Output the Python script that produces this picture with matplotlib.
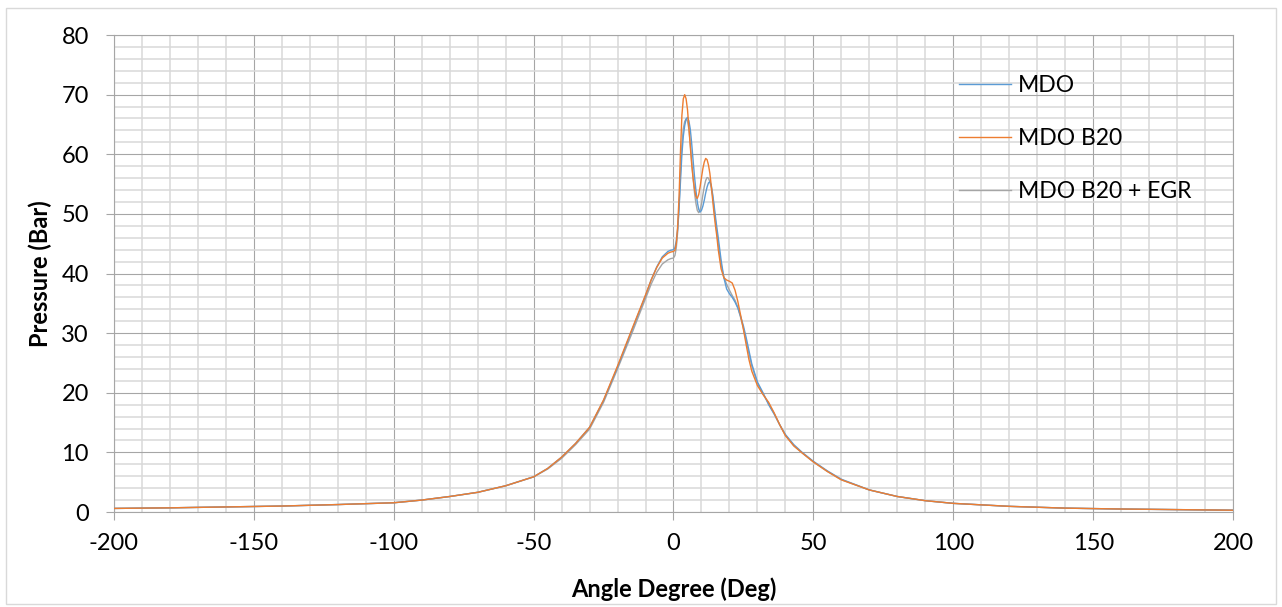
import matplotlib
matplotlib.use("Agg")
import matplotlib.pyplot as plt
from matplotlib.ticker import MultipleLocator

plt.rcParams['font.family'] = ['Lato', 'DejaVu Sans']
plt.rcParams['axes.unicode_minus'] = False

# crank angle (deg) and cylinder pressure (bar)
angle = [-200, -180, -160, -140, -120, -100, -90, -80, -70, -60, -50, -45, -40, -35,
         -30, -25, -20, -15, -10, -8, -6, -4, -2, -1, 0, 0.5, 1, 1.5, 2, 2.5, 3, 3.5,
         4, 4.5, 5, 5.5, 6, 6.5, 7, 7.5, 8, 8.5, 9, 9.5, 10, 10.5, 11, 11.5, 12, 12.5,
         13, 13.5, 14, 14.5, 15, 15.5, 16, 17, 18, 19, 20, 21, 22, 23, 24, 25, 26, 27,
         28, 30, 32, 34, 36, 38, 40, 43, 46, 50, 55, 60, 70, 80, 90, 100, 120, 140,
         160, 180, 200]

mdo = [0.6, 0.7, 0.85, 1.0, 1.25, 1.55, 2.0, 2.6, 3.3, 4.4, 5.9, 7.3, 9.2, 11.5,
       14.2, 18.7, 24.3, 30.3, 36.3, 38.9, 41.1, 42.8, 43.7, 43.9, 44.0, 44.3, 45.5, 47.5, 51.0, 55.5, 60.0, 63.0,
       64.8, 65.9, 66.2, 65.6, 64.2, 61.8, 59.0, 56.3, 54.0, 52.0, 50.8, 50.3, 50.6, 51.3, 52.3, 53.5, 54.5, 55.2,
       55.4, 54.8, 53.3, 51.5, 49.5, 47.7, 46.0, 42.3, 39.3, 37.4, 36.6, 36.0, 35.2, 34.2, 32.8, 31.2, 29.2, 27.0,
       24.8, 21.8, 20.0, 18.0, 16.4, 14.6, 13.0, 11.3, 10.0, 8.5, 6.9, 5.5, 3.7, 2.6, 1.9, 1.45, 0.95, 0.65,
       0.5, 0.4, 0.3]

mdo_b20 = [0.6, 0.7, 0.85, 1.0, 1.25, 1.55, 2.0, 2.6, 3.3, 4.4, 5.9, 7.3, 9.2, 11.5,
           14.2, 18.8, 24.5, 30.5, 36.4, 38.9, 41.0, 42.6, 43.4, 43.6, 43.7, 43.9, 45.0, 48.0, 53.0, 60.5, 66.5, 69.3,
           70.0, 69.3, 67.5, 64.5, 61.3, 58.3, 56.0, 54.2, 52.9, 52.6, 53.2, 54.5, 56.1, 57.6, 58.7, 59.3, 59.1, 58.2,
           56.8, 54.7, 52.3, 50.0, 48.0, 46.2, 44.0, 40.8, 39.3, 38.9, 38.7, 38.4, 37.2, 35.3, 33.0, 30.6, 28.0, 25.5,
           23.6, 21.2, 19.7, 18.4, 16.6, 14.6, 12.8, 11.1, 9.9, 8.4, 6.8, 5.4, 3.7, 2.6, 1.9, 1.45, 0.95, 0.65,
           0.5, 0.4, 0.3]

mdo_b20_egr = [0.6, 0.7, 0.85, 1.0, 1.25, 1.55, 2.0, 2.6, 3.3, 4.4, 5.9, 7.2, 9.0, 11.3,
               13.9, 18.4, 24.0, 29.8, 35.8, 38.2, 40.2, 41.6, 42.3, 42.5, 42.6, 43.0, 44.3, 47.0, 51.5, 57.0, 61.5, 64.3,
               65.5, 65.9, 65.6, 64.2, 61.8, 58.8, 56.0, 53.6, 51.8, 50.6, 50.2, 50.6, 51.7, 53.2, 54.6, 55.6, 56.1, 56.0,
               55.4, 54.4, 53.0, 51.0, 48.8, 46.8, 45.0, 41.5, 39.4, 38.2, 37.2, 36.3, 35.5, 34.3, 32.6, 30.8, 28.6, 26.5,
               24.5, 21.6, 19.8, 18.2, 16.5, 14.6, 12.9, 11.1, 9.9, 8.4, 6.8, 5.4, 3.7, 2.6, 1.9, 1.45, 0.95, 0.65,
               0.5, 0.4, 0.3]

fig = plt.figure(figsize=(12.82, 6.07), dpi=100)
fig.patches.append(plt.Rectangle((0.005, 0.005), 0.99, 0.982, transform=fig.transFigure,
                                 fill=False, edgecolor='#D9D9D9', linewidth=1))
ax = fig.add_axes([0.0889, 0.1565, 0.8729, 0.7858])

ax.plot(angle, mdo, color='#5B9BD5', linewidth=1.0, label='MDO', zorder=4)
ax.plot(angle, mdo_b20, color='#ED7D31', linewidth=1.0, label='MDO B20', zorder=5)
ax.plot(angle, mdo_b20_egr, color='#A5A5A5', linewidth=1.0, label='MDO B20 + EGR', zorder=3)

ax.set_xlim(-200, 200)
ax.set_ylim(0, 80)
ax.xaxis.set_major_locator(MultipleLocator(50))
ax.xaxis.set_minor_locator(MultipleLocator(10))
ax.yaxis.set_major_locator(MultipleLocator(10))
ax.yaxis.set_minor_locator(MultipleLocator(2))
ax.grid(which='minor', color='#D9D9D9', linewidth=1.1)
ax.grid(which='major', color='#A6A6A6', linewidth=0.8)
ax.set_axisbelow(True)
for s in ax.spines.values():
    s.set_color('#A6A6A6')
    s.set_linewidth(0.8)
ax.tick_params(which='major', length=6, width=0.8, color='#A6A6A6', labelsize=17, pad=12)
ax.tick_params(which='minor', length=0)
ax.tick_params(axis='x', pad=9)

ax.set_xlabel('Angle Degree (Deg)', fontsize=17, fontweight='bold', labelpad=17)
ax.set_ylabel('Pressure (Bar)', fontsize=17, fontweight='bold', labelpad=7)

ax.legend(loc='upper left', bbox_to_anchor=(959 / 1282, 1 - 75 / 607), bbox_transform=fig.transFigure,
          frameon=False, fontsize=16.5, handlelength=2.27, handletextpad=0.3, labelspacing=1.4,
          borderpad=0, borderaxespad=0)

plt.savefig('out.png', dpi=100)
